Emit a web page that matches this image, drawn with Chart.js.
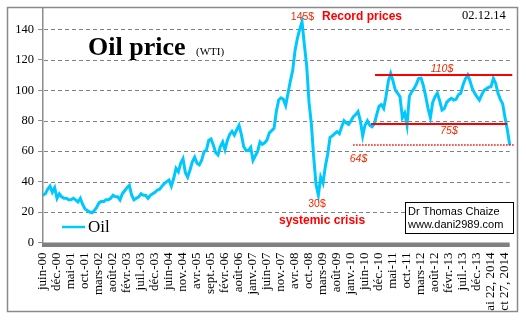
<!DOCTYPE html>
<html><head><meta charset="utf-8">
<script src="https://cdn.jsdelivr.net/npm/chart.js@4.4.0/dist/chart.umd.min.js"></script>
<style>html,body{margin:0;padding:0;background:#fff;overflow:hidden}canvas{display:block}</style>
</head><body><canvas id="c" width="526" height="321"></canvas>
<script>
const tickLabels = ['juin-00','déc.-00','mai-01','oct.-01','mars-02','août-02','févr.-03','juil.-03','déc.-03','juin-04','nov.-04','avr.-05','sept.-05','févr.-06','août-06','janv.-07','juin-07','nov.-07','avr.-08','oct.-08','mars-09','août-09','janv.-10','juin-10','déc.-10','mai-11','oct.-11','mars-12','août-12','févr.-13','juil.-13','déc.-13','mai 22, 2014','oct 27, 2014'];
const oilPrices = [
31,32,35,37,33,36,29,32,30,29,
29,28,28,29,28,26.6,29,25,22,21,
20,19.5,21,23,26,27,26.8,28,28,29,
31,30,30,28,32,34,36,37.5,31,28,
29,30,32,31,31,29,31,32,33,34.5,
35,37,38.7,40,41,37,42,48.7,46.5,52,
55,46,43,47.6,53,56,52,51,54,59.6,
60.5,67,68,64,59,57.5,63,66,61,67,
71,73,70.6,74,77,71,63,60.5,60.5,62.5,
54,57,60,66,64.5,65.5,67.3,72,73.5,75,
86,93.6,95,94,90,98,106,113,126,134,
140,145,130,116,92,78,56,38,31,43,
39,50,58,69,70,71.5,72.8,71.5,76,80,
78.5,77.5,80,82.6,84,86,80,70,77,80,
77,76,78,84,89.5,90.5,88,96,106,111,
106,100,98,95.7,82,85,77,96,99,101,
104,107.8,108,103,96,88,82,92,95.7,98,
93,87,88,92,93.6,94.7,93.5,94,97,98,
103.4,107.5,110,106,101,98,95.7,93.6,97,100,
101,102,102.3,107.8,104.5,98,94,91,82,74,
64];
const pointsPerLabel = 6;
const resistanceLevel = 110;
const supportLevel = 78;
const lowLevel = 64;
const categories = oilPrices.map((_, i) => i % pointsPerLabel === 0 ? (tickLabels[i / pointsPerLabel] || '') : '');

const CYAN = '#00C8FF';
const RED = '#FF0000';

const decor = {
  id: 'decor',
  beforeDatasetsDraw(chart) {
    const {ctx, scales: {y}, chartArea: a} = chart;
    ctx.save();
    ctx.strokeStyle = '#808080';
    ctx.lineWidth = 1;
    ctx.setLineDash([4, 3]);
    y.ticks.forEach(t => {
      if (t.value <= 0) return;
      const py = Math.round(y.getPixelForValue(t.value)) + 0.5;
      ctx.beginPath();
      ctx.moveTo(a.left + 1, py);
      ctx.lineTo(a.right, py);
      ctx.stroke();
    });
    ctx.restore();
  },
  afterDatasetsDraw(chart) {
    const {ctx, scales: {x, y}} = chart;
    ctx.save();
    ctx.strokeStyle = RED;
    ctx.lineWidth = 2;
    const hl = (i0, i1, v) => {
      const py = Math.round(y.getPixelForValue(v));
      ctx.beginPath();
      ctx.moveTo(x.getPixelForValue(i0), py);
      ctx.lineTo(x.getPixelForValue(i1), py);
      ctx.stroke();
    };
    hl(142.3, 201.1, resistanceLevel);
    hl(140.6, 198.9, supportLevel);
    ctx.setLineDash([1.5, 1.5]);
    ctx.lineWidth = 1.5;
    hl(132.9, 202.3, lowLevel);
    ctx.restore();
  },
  afterDraw(chart) {
    const {ctx, chartArea: a} = chart;
    ctx.save();
    ctx.fillStyle = '#808080';
    ctx.fillRect(a.left - 1, a.bottom, a.right - a.left + 1, 4.5);
    ctx.fillStyle = '#fff';
    ctx.fillRect(0, 312, 526, 9);
    ctx.fillRect(518, 0, 8, 321);
    ctx.strokeStyle = '#8a8a8a';
    ctx.lineWidth = 1.5;
    ctx.strokeRect(7.5, 7.5, 510, 304);
    ctx.fillStyle = '#000';
    ctx.textBaseline = 'alphabetic';
    ctx.textAlign = 'left';
    ctx.font = 'bold 26px "Liberation Serif"';
    ctx.fillText('Oil price', 88, 55);
    ctx.font = '11px "Liberation Serif"';
    ctx.fillText('(WTI)', 196, 55);
    ctx.font = '12.5px "Liberation Serif"';
    ctx.fillText('02.12.14', 462, 19);
    ctx.fillStyle = RED;
    ctx.font = 'bold 12px "Liberation Sans"';
    ctx.fillText('Record prices', 322, 20);
    ctx.fillText('systemic crisis', 279, 224);
    ctx.textAlign = 'center';
    ctx.fillStyle = '#F02800';
    ctx.font = '10.5px "Liberation Sans"';
    ctx.fillText('145$', 302.5, 20);
    ctx.fillText('30$', 317, 207);
    ctx.font = 'italic 10.5px "Liberation Sans"';
    ctx.fillText('110$', 442, 72);
    ctx.fillText('75$', 449, 134);
    ctx.fillText('64$', 358.5, 162);
    ctx.fillStyle = '#fff';
    ctx.fillRect(405, 202, 108, 31);
    ctx.strokeStyle = '#000';
    ctx.lineWidth = 1;
    ctx.strokeRect(405.5, 202.5, 108, 31);
    ctx.fillStyle = '#000';
    ctx.textAlign = 'left';
    ctx.font = '11px "Liberation Sans"';
    ctx.fillText('Dr Thomas Chaize', 408, 214.5);
    ctx.fillText('www.dani2989.com', 408, 228);
    ctx.strokeStyle = CYAN;
    ctx.lineWidth = 2.5;
    ctx.beginPath();
    ctx.moveTo(62, 227);
    ctx.lineTo(85, 227);
    ctx.stroke();
    ctx.fillStyle = '#000';
    ctx.font = '17px "Liberation Serif"';
    ctx.fillText('Oil', 88, 232);
    ctx.restore();
  }
};

new Chart(document.getElementById('c'), {
  type: 'line',
  data: {
    labels: categories,
    datasets: [{
      label: 'Oil',
      data: oilPrices,
      borderColor: CYAN,
      borderWidth: 3,
      pointRadius: 0,
      tension: 0,
      fill: false
    }]
  },
  options: {
    responsive: false,
    animation: false,
    layout: {padding: {left: 0, top: 8, right: 16.3, bottom: 0}},
    plugins: {legend: {display: false}, tooltip: {enabled: false}},
    scales: {
      x: {
        type: 'category',
        offset: false,
        grid: {display: false, drawTicks: false},
        border: {display: false},
        ticks: {
          autoSkip: false,
          minRotation: 90,
          maxRotation: 90,
          padding: 10,
          color: '#000',
          font: {family: 'Liberation Serif', size: 13},
          callback: function(v, i) { return categories[i]; }
        },
        afterFit: s => { s.height = 78.5; s.paddingLeft = 0; s.paddingRight = 0; }
      },
      y: {
        min: 0,
        max: 154,
        grid: {drawOnChartArea: false, color: '#8c8c8c', lineWidth: 1, tickLength: 5, tickColor: '#8c8c8c'},
        border: {display: true, color: '#8c8c8c', width: 1.5},
        ticks: {
          stepSize: 20,
          includeBounds: false,
          padding: 4,
          color: '#000',
          font: {family: 'Liberation Serif', size: 12.5}
        },
        afterFit: s => { s.width = 43; s.paddingTop = 0; s.paddingBottom = 0; }
      }
    }
  },
  plugins: [decor]
});
</script>
</body></html>
